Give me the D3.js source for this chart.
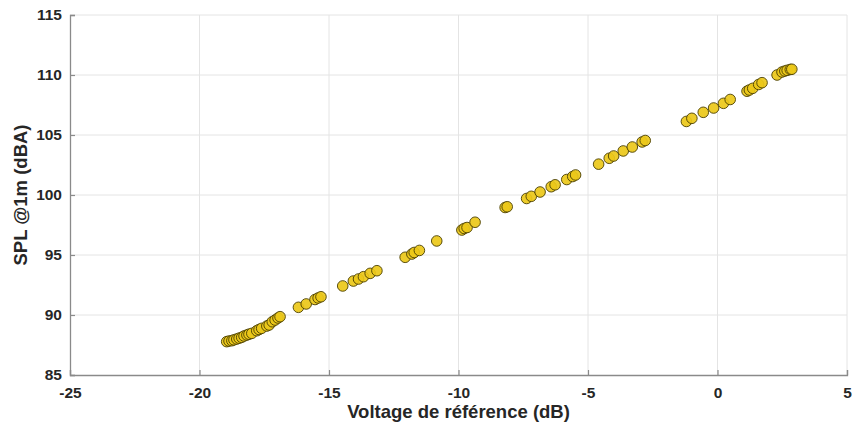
<!DOCTYPE html>
<html>
<head>
<meta charset="utf-8">
<script src="https://cdn.jsdelivr.net/npm/d3@7"></script>
<style>
  html, body { margin: 0; padding: 0; background: #ffffff; }
  svg { display: block; font-family: "Liberation Sans", Arial, Helvetica, sans-serif; }
</style>
</head>
<body>
<svg id="chart" width="857" height="424"></svg>
<script>
// Reference voltage (dB) for each measurement
const voltageDb = [
  -18.95, -18.86, -18.75, -18.67, -18.56, -18.47, -18.37, -18.28, -18.17, -18.09,
  -17.98, -17.79, -17.70, -17.60, -17.40, -17.31, -17.19, -17.08, -16.97, -16.89,
  -16.18, -15.88, -15.54, -15.42, -15.31,
  -14.47, -14.06, -13.86, -13.67, -13.41, -13.15,
  -12.06, -11.80, -11.71, -11.51, -10.84,
  -9.87, -9.78, -9.67, -9.36,
  -8.20, -8.12, -7.37, -7.19, -6.85, -6.42, -6.27, -5.82, -5.59, -5.48,
  -4.59, -4.18, -4.01, -3.64, -3.29, -2.91, -2.79,
  -1.20, -0.99, -0.55, -0.15, 0.23, 0.49,
  1.14, 1.23, 1.36, 1.59, 1.72,
  2.30, 2.49, 2.60, 2.69, 2.81, 2.87
];
// Measured sound pressure level at 1 m (dBA)
const splDbA = [
  87.78, 87.83, 87.86, 87.93, 88.00, 88.07, 88.14, 88.25, 88.33, 88.40,
  88.47, 88.69, 88.79, 88.89, 89.08, 89.17, 89.44, 89.58, 89.75, 89.86,
  90.64, 90.92, 91.29, 91.42, 91.52,
  92.42, 92.83, 93.00, 93.19, 93.47, 93.69,
  94.81, 95.08, 95.21, 95.38, 96.17,
  97.08, 97.21, 97.29, 97.73,
  98.96, 99.02, 99.71, 99.89, 100.25, 100.69, 100.85, 101.29, 101.54, 101.67,
  102.57, 103.06, 103.25, 103.67, 104.00, 104.42, 104.54,
  106.13, 106.39, 106.89, 107.25, 107.64, 107.96,
  108.65, 108.75, 108.89, 109.21, 109.36,
  110.00, 110.25, 110.33, 110.39, 110.46, 110.48
];
const xTicks = [-25, -20, -15, -10, -5, 0, 5];
const yTicks = [85, 90, 95, 100, 105, 110, 115];
const xLabel = "Voltage de référence (dB)";
const yLabel = "SPL @1m (dBA)";

const svg = d3.select("#chart");
const margin = { left: 70, right: 10, top: 15, bottom: 49 };
const W = 857, H = 424;
const x = d3.scaleLinear().domain([-25, 5]).range([margin.left, W - margin.right]);
const y = d3.scaleLinear().domain([85, 115]).range([H - margin.bottom, margin.top]);

const textColor = "#262626";
const axisColor = "#8a8a8a";
const gridColor = "#e4e4e4";
const plainNumber = d => String(d);   // hyphen-minus, as in the printed labels

// grid
const grid = svg.append("g");
grid.selectAll("line.vx").data(xTicks.slice(1)).join("line")
  .attr("x1", d => x(d)).attr("x2", d => x(d))
  .attr("y1", y(85)).attr("y2", y(115))
  .attr("stroke", gridColor).attr("stroke-width", 1);
grid.selectAll("line.hy").data(yTicks.slice(1)).join("line")
  .attr("y1", d => y(d)).attr("y2", d => y(d))
  .attr("x1", x(-25)).attr("x2", x(5))
  .attr("stroke", gridColor).attr("stroke-width", 1);

// axes with inward ticks
const xAxis = d3.axisBottom(x).tickValues(xTicks).tickSize(-5).tickPadding(12).tickFormat(plainNumber);
const yAxis = d3.axisLeft(y).tickValues(yTicks).tickSize(-5).tickPadding(8).tickFormat(plainNumber);

const gx = svg.append("g").attr("transform", `translate(0,${y(85)})`).call(xAxis);
const gy = svg.append("g").attr("transform", `translate(${x(-25)},0)`).call(yAxis);
[gx, gy].forEach(g => {
  g.select(".domain").attr("stroke", axisColor).attr("stroke-width", 1.3);
  g.selectAll(".tick line").attr("stroke", axisColor).attr("stroke-width", 1.2);
  g.selectAll(".tick text")
    .attr("fill", textColor)
    .style("font-size", "15.5px")
    .style("font-weight", "bold")
    .style("font-family", '"Liberation Sans", Arial, sans-serif');
});

// points
svg.append("g").selectAll("circle")
  .data(voltageDb.map((v, i) => [v, splDbA[i]]))
  .join("circle")
  .attr("cx", d => x(d[0]))
  .attr("cy", d => y(d[1]))
  .attr("r", 5.3)
  .attr("fill", "#ecc819")
  .attr("fill-opacity", 0.92)
  .attr("stroke", "#4a3e00")
  .attr("stroke-width", 0.9);

// axis titles
svg.append("text")
  .attr("x", (x(-25) + x(5)) / 2).attr("y", 418)
  .attr("text-anchor", "middle")
  .attr("fill", textColor)
  .style("font-size", "18.5px").style("font-weight", "bold")
  .text(xLabel);

svg.append("text")
  .attr("transform", `translate(27,${(y(85) + y(115)) / 2}) rotate(-90)`)
  .attr("text-anchor", "middle")
  .attr("fill", textColor)
  .style("font-size", "18.5px").style("font-weight", "bold")
  .text(yLabel);
</script>
</body>
</html>
